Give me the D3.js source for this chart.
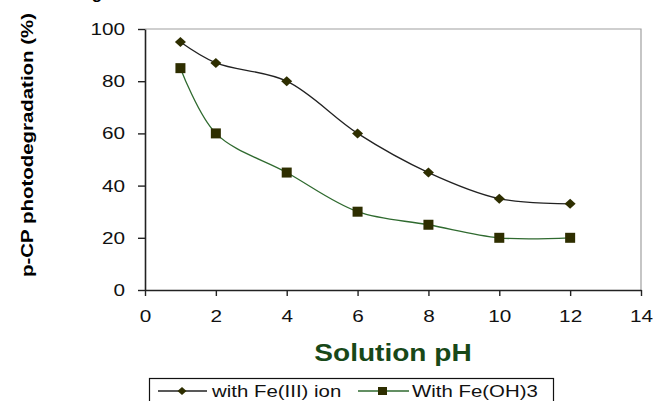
<!DOCTYPE html>
<html><head><meta charset="utf-8">
<script src="https://cdn.jsdelivr.net/npm/d3@7"></script>
<style>html,body{margin:0;padding:0;background:#fff;}svg{display:block;font-family:Arial,"Liberation Sans",sans-serif;}</style>
</head><body>
<svg id="c" width="653" height="401"></svg>
<script>
const phValues = [1, 2, 4, 6, 8, 10, 12];
const feIonValues = [95, 87, 80, 60, 45, 35, 33];
const feOHValues = [85, 60, 45, 30, 25, 20, 20];
const seriesNames = ["with Fe(III) ion", "With Fe(OH)3"];
const xTicks = [0, 2, 4, 6, 8, 10, 12, 14];
const yTicks = [0, 20, 40, 60, 80, 100];
const xTitle = "Solution pH";
const yTitle = "p-CP photodegradation (%)";

const svg = d3.select("#c");
const L = 145, R = 641, T = 29, B = 290;
const x = d3.scaleLinear().domain([0, 14]).range([L, R]);
const y = d3.scaleLinear().domain([0, 100]).range([B, T]);

function stretch(sel, f) {
  sel.each(function () {
    const w = this.getComputedTextLength();
    d3.select(this).attr("textLength", w * f).attr("lengthAdjust", "spacingAndGlyphs");
  });
}

// partial caption descender at top
svg.append("text").attr("x", 97).attr("y", -1).attr("text-anchor", "middle")
  .attr("font-size", 17).attr("font-weight", "bold").attr("fill", "#000").text("g");

// plot border (top/right)
svg.append("path").attr("d", `M${L},${T}H${R}V${B}`).attr("fill", "none").attr("stroke", "#a0a0a0").attr("stroke-width", 1.2);

// axes
const yAxis = svg.append("g").attr("transform", `translate(${L},0)`)
  .call(d3.axisLeft(y).tickValues(yTicks).tickSize(7).tickPadding(13).tickSizeOuter(0));
const xAxis = svg.append("g").attr("transform", `translate(0,${B})`)
  .call(d3.axisBottom(x).tickValues(xTicks).tickSize(6).tickPadding(14).tickSizeOuter(0));
[yAxis, xAxis].forEach(a => {
  a.select(".domain").attr("stroke", "#222").attr("stroke-width", 1.6);
  a.selectAll(".tick line").attr("stroke", "#222").attr("stroke-width", 1.4);
  a.selectAll("text").attr("font-size", 17).attr("fill", "#111").attr("font-family", "Arial, 'Liberation Sans', sans-serif");
});
stretch(yAxis.selectAll("text"), 1.22);
stretch(xAxis.selectAll("text"), 1.22);

// titles
const xt = svg.append("text").attr("x", (L + R) / 2).attr("y", 361).attr("text-anchor", "middle")
  .attr("font-size", 23).attr("font-weight", "bold").attr("fill", "#184818").text(xTitle);
stretch(xt, 1.22);
const yt = svg.append("text").attr("transform", "translate(33,145) rotate(-90)").attr("text-anchor", "middle")
  .attr("font-size", 17).attr("font-weight", "bold").attr("fill", "#000").text(yTitle);
yt.attr("textLength", 264).attr("lengthAdjust", "spacingAndGlyphs");

// lines
const line = d3.line().x(d => x(d[0])).y(d => y(d[1])).curve(d3.curveCatmullRom.alpha(0.5));
const s1 = phValues.map((p, i) => [p, feIonValues[i]]);
const s2 = phValues.map((p, i) => [p, feOHValues[i]]);
svg.append("path").attr("d", line(s2)).attr("fill", "none").attr("stroke", "#2f6a2f").attr("stroke-width", 1.3);
svg.append("path").attr("d", line(s1)).attr("fill", "none").attr("stroke", "#222").attr("stroke-width", 1.3);

const mk = "#2e2e00";
function diamond(cx, cy, w, h) { return `M${cx - w},${cy}L${cx},${cy - h}L${cx + w},${cy}L${cx},${cy + h}Z`; }
svg.append("g").selectAll("path").data(s1).join("path")
  .attr("d", d => diamond(x(d[0]), y(d[1]), 5.5, 5)).attr("fill", mk);
svg.append("g").selectAll("rect").data(s2).join("rect")
  .attr("x", d => x(d[0]) - 5).attr("y", d => y(d[1]) - 5).attr("width", 10).attr("height", 10).attr("fill", mk);

// legend
const lg = svg.append("g");
lg.append("rect").attr("x", 149.5).attr("y", 378.5).attr("width", 404).attr("height", 40)
  .attr("fill", "#fff").attr("stroke", "#111").attr("stroke-width", 1.2);
const ly = 391;
lg.append("line").attr("x1", 158).attr("x2", 207).attr("y1", ly).attr("y2", ly).attr("stroke", "#222").attr("stroke-width", 1.3);
lg.append("path").attr("d", diamond(182, ly, 4.5, 4)).attr("fill", mk);
const t1 = lg.append("text").attr("x", 212).attr("y", 397).attr("font-size", 17).attr("fill", "#111").text(seriesNames[0]);
stretch(t1, 1.2);
lg.append("line").attr("x1", 358).attr("x2", 409).attr("y1", ly).attr("y2", ly).attr("stroke", "#2f6a2f").attr("stroke-width", 1.3);
lg.append("rect").attr("x", 378).attr("y", ly - 4).attr("width", 9).attr("height", 8).attr("fill", mk);
const t2 = lg.append("text").attr("x", 412).attr("y", 397).attr("font-size", 17).attr("fill", "#111").text(seriesNames[1]);
stretch(t2, 1.2);
</script>
</body></html>
